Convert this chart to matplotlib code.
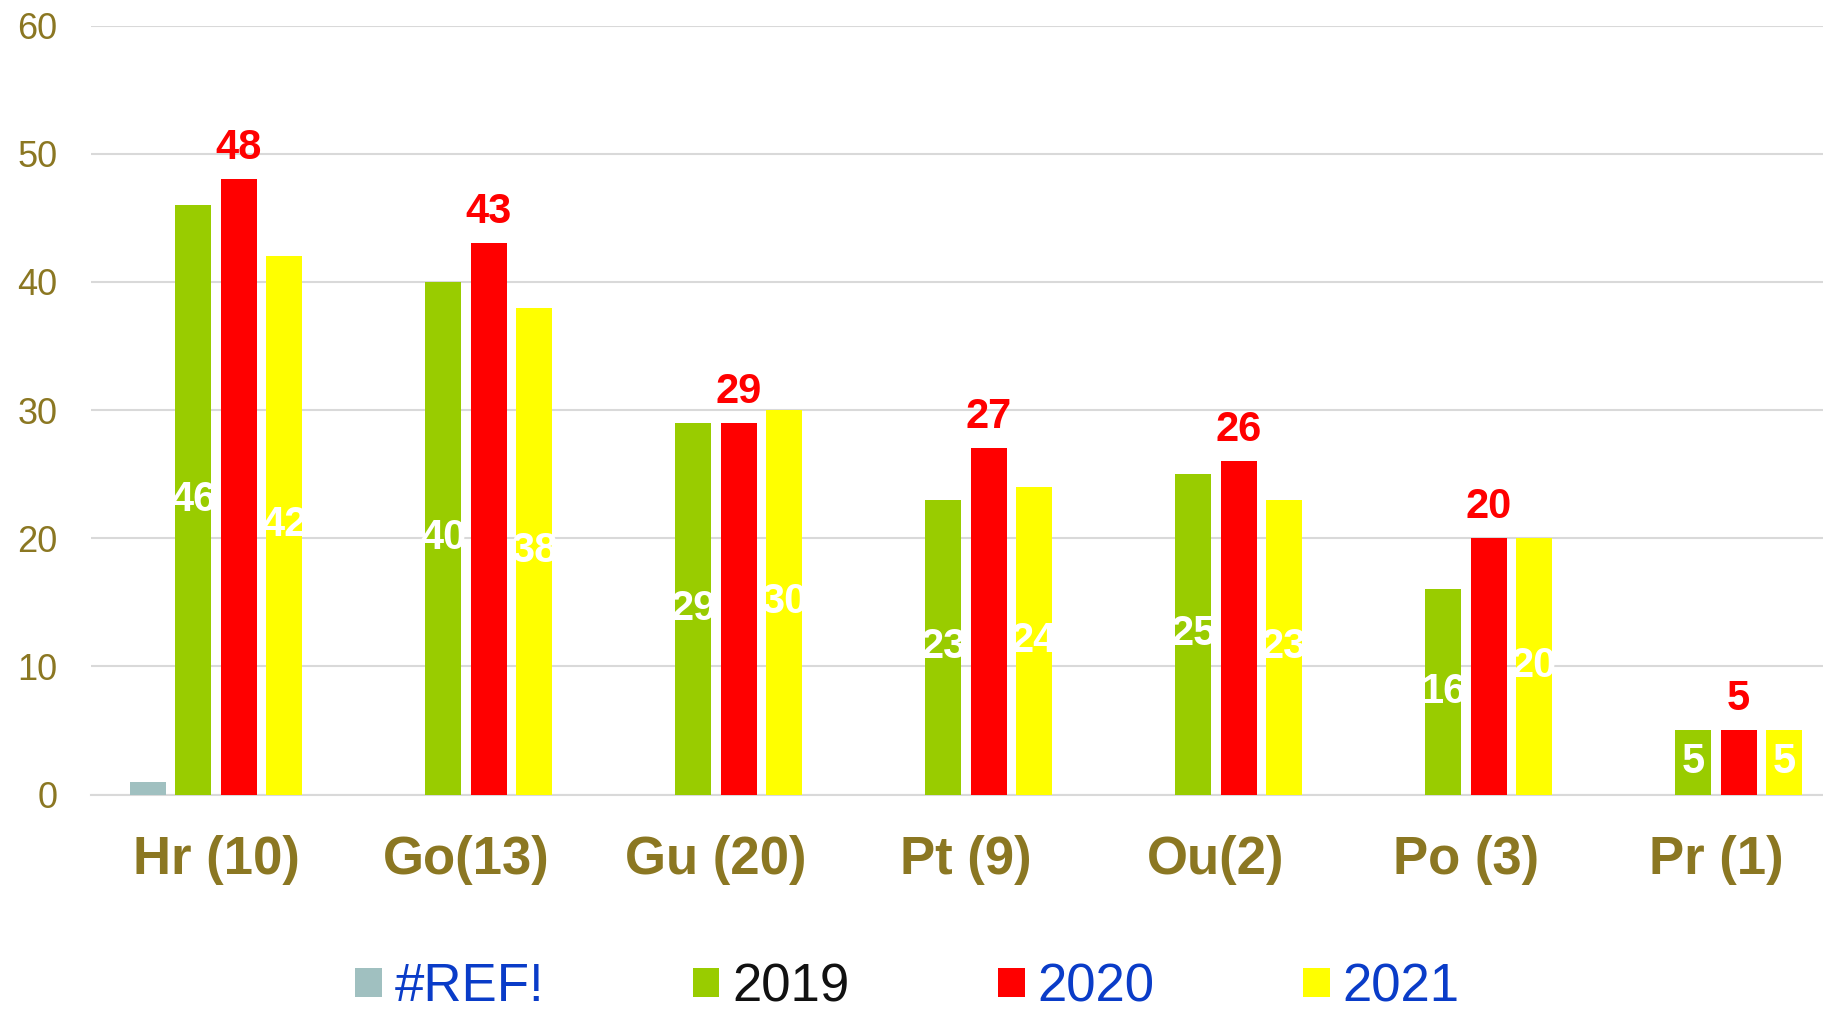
import numpy as np
import matplotlib
matplotlib.use("Agg")
import matplotlib.pyplot as plt

plt.rcParams['font.family'] = ['Liberation Sans', 'DejaVu Sans']

categories = ["Hr (10)", "Go(13)", "Gu (20)", "Pt (9)", "Ou(2)", "Po (3)", "Pr (1)"]
series_names = ["#REF!", "2019", "2020", "2021"]
ref_vals = [1, np.nan, np.nan, np.nan, np.nan, np.nan, np.nan]
vals_2019 = [46, 40, 29, 23, 25, 16, 5]
vals_2020 = [48, 43, 29, 27, 26, 20, 5]
vals_2021 = [42, 38, 30, 24, 23, 20, 5]
y_ticks = [0, 10, 20, 30, 40, 50, 60]

colors = ['#A0C0C0', '#99CC00', '#FF0000', '#FFFF00']
legend_text_colors = ['#0A3CC8', '#111111', '#0A3CC8', '#0A3CC8']
olive = '#8B7722'
grid_c = '#D9D9D9'

W, H = 1824, 1010
fig = plt.figure(figsize=(W / 100, H / 100), dpi=100)
y0, y60 = 794.5, 25.6
left = 91
ax = fig.add_axes([left / W, (H - y0) / H, 1750 / W, (y0 - y60) / H])

x = np.arange(len(categories))
slot = 0.1814
width = 0.144
all_vals = [ref_vals, vals_2019, vals_2020, vals_2021]
conts = []
for i, (vals, c, name) in enumerate(zip(all_vals, colors, series_names)):
    cont = ax.bar(x + (i - 1.5) * slot, vals, width=width, color=c, label=name, zorder=3)
    conts.append(cont)

ax.bar_label(conts[2], padding=8, color='#FF0000', fontsize=30, fontweight='bold')
for k in (1, 3):
    ax.bar_label(conts[k], label_type='center', color='white', fontsize=30, fontweight='bold')

ax.set_xlim(-0.5, len(categories) - 0.5)
ax.set_ylim(0, 60)
ax.set_yticks(y_ticks)
ax.set_xticks(x)
ax.set_xticklabels(categories, fontsize=38, fontweight='bold', color=olive)
ax.tick_params(axis='x', length=0, pad=29)
ax.tick_params(axis='y', length=0, pad=24, labelsize=26, labelcolor=olive)
ax.yaxis.grid(True, color=grid_c, lw=1.5, zorder=0)
ax.set_axisbelow(True)
for s in ('left', 'right', 'top'):
    ax.spines[s].set_visible(False)
ax.spines['bottom'].set_color(grid_c)
ax.spines['bottom'].set_linewidth(1.5)
ax.spines['bottom'].set_zorder(1)

leg = fig.legend(handles=conts, labels=series_names, loc='center',
                 bbox_to_anchor=(0.4975, 0.0225), ncol=4, frameon=False,
                 fontsize=38, handlelength=0.51, handleheight=0.48,
                 handletextpad=0.25, columnspacing=2.8, borderpad=0,
                 borderaxespad=0)
for t, c in zip(leg.get_texts(), legend_text_colors):
    t.set_color(c)

fig.savefig('out.png', dpi=100)
